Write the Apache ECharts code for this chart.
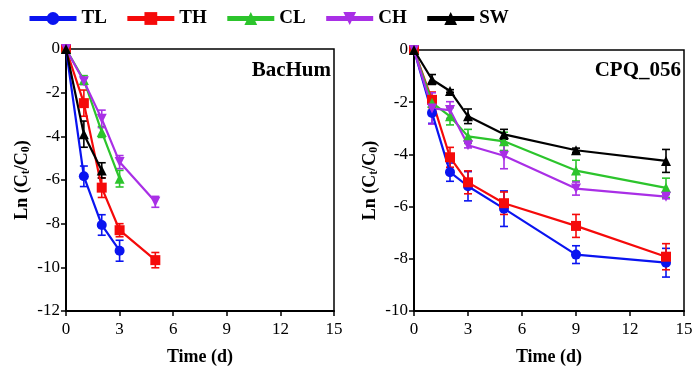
<!DOCTYPE html>
<html><head><meta charset="utf-8">
<script src="https://cdn.jsdelivr.net/npm/echarts@6/dist/echarts.min.js"></script>
<style>html,body{margin:0;padding:0;background:#fff}#c{width:700px;height:371px}</style>
</head><body><div id="c"></div>
<script>
// ---- Data ----
const seriesNames = ['TL','TH','CL','CH','SW'];
const xTicks = [0,3,6,9,12,15];
// BacHum panel
const bhDays = [0,1,2,3,5];
const bhTL = [0,-5.83,-8.06,-9.24,null];
const bhTH = [0,-2.48,-6.35,-8.30,-9.67];
const bhCL = [0,-1.42,-3.80,-5.94,null];
const bhCH = [0,-1.48,-3.20,-5.18,-7.00];
const bhSW = [0,-3.90,-5.56,null,null];
const bhTLerr = [0,0.47,0.47,0.48,null];
const bhTHerr = [0,0.60,0.45,0.30,0.35];
const bhCLerr = [0,0.20,0.25,0.38,null];
const bhCHerr = [0,0.15,0.40,0.30,0.25];
const bhSWerr = [0,0.60,0.35,null,null];
// CPQ_056 panel
const cpDays = [0,1,2,3,5,9,14];
const cpTL = [0,-2.41,-4.68,-5.22,-6.08,-7.84,-8.15];
const cpTH = [0,-1.91,-4.11,-5.07,-5.87,-6.74,-7.92];
const cpCL = [0,-2.02,-2.54,-3.31,-3.50,-4.62,-5.28];
const cpCH = [0,-2.24,-2.30,-3.65,-4.05,-5.31,-5.62];
const cpSW = [0,-1.13,-1.57,-2.54,-3.23,-3.84,-4.25];
const cpTLerr = [0,0.40,0.35,0.56,0.68,0.34,0.55];
const cpTHerr = [0,0.30,0.38,0.44,0.43,0.44,0.50];
const cpCLerr = [0,0.10,0.33,0.27,0.35,0.40,0.37];
const cpCHerr = [0,0.60,0.32,0.10,0.50,0.25,0.08];
const cpSWerr = [0,0.19,0.05,0.28,0.19,0.08,0.44];

const colors = {TL:'#0A14F0', TH:'#F50A0A', CL:'#2CC42C', CH:'#A92FE6', SW:'#000000'};
const symbols = {TL:'circle', TH:'rect', CL:'triangle', CH:'triangle', SW:'triangle'};
const symRot = {TL:0, TH:0, CL:0, CH:180, SW:0};
const symSize = {TL:10, TH:10, CL:10, CH:10, SW:10};

const serif = 'Liberation Serif, Times New Roman, serif';

const panels = [
  {days: bhDays, vals: [bhTL,bhTH,bhCL,bhCH,bhSW], errs: [bhTLerr,bhTHerr,bhCLerr,bhCHerr,bhSWerr]},
  {days: cpDays, vals: [cpTL,cpTH,cpCL,cpCH,cpSW], errs: [cpTLerr,cpTHerr,cpCLerr,cpCHerr,cpSWerr]}
];

const series = [];
panels.forEach((p, pi) => {
  seriesNames.forEach((nm, si) => {
    const pts = [], eb = [];
    p.days.forEach((d, k) => {
      const v = p.vals[si][k];
      if (v === null || v === undefined) return;
      pts.push([d, v]);
      eb.push([d, v, p.errs[si][k]]);
    });
    const col = colors[nm];
    series.push({
      type: 'custom', name: nm + '_err' + pi, xAxisIndex: pi, yAxisIndex: pi,
      data: eb, encode: {x: 0, y: 1}, z: 2, silent: true,
      renderItem: function (params, api) {
        const x = api.value(0), y = api.value(1), e = api.value(2);
        if (!e) return null;
        const t = api.coord([x, y + e]), b = api.coord([x, y - e]);
        const w = 4;
        const st = {stroke: col, lineWidth: 1.6};
        return {type: 'group', children: [
          {type: 'line', shape: {x1: t[0], y1: t[1], x2: b[0], y2: b[1]}, style: st},
          {type: 'line', shape: {x1: t[0]-w, y1: t[1], x2: t[0]+w, y2: t[1]}, style: st},
          {type: 'line', shape: {x1: b[0]-w, y1: b[1], x2: b[0]+w, y2: b[1]}, style: st}
        ]};
      }
    });
    series.push({
      type: 'line', name: nm, xAxisIndex: pi, yAxisIndex: pi, data: pts, z: 3,
      symbol: symbols[nm], symbolRotate: symRot[nm], symbolSize: symSize[nm],
      lineStyle: {color: col, width: 2.2}, itemStyle: {color: col}, animation: false
    });
  });
});

const axisCommon = {
  axisLine: {show: true, onZero: false, lineStyle: {color: '#000', width: 2}},
  axisTick: {show: true, inside: false, length: 5, lineStyle: {color: '#000', width: 1.5}},
  axisLabel: {color: '#000', fontFamily: serif, fontSize: 17},
  splitLine: {show: false}
};
function xAx(i) {
  return Object.assign({}, axisCommon, {
    type: 'value', gridIndex: i, min: xTicks[0], max: xTicks[xTicks.length-1], interval: 3,
    name: 'Time (d)', nameLocation: 'middle', nameGap: 37,
    nameTextStyle: {color: '#000', fontFamily: serif, fontSize: 18, fontWeight: 'bold'},
    axisLabel: Object.assign({}, axisCommon.axisLabel, {margin: 10})
  });
}
function yAx(i, min) {
  return Object.assign({}, axisCommon, {
    type: 'value', gridIndex: i, min: min, max: 0, interval: 2,
    name: '{b|Ln (C}{s|t}{b|/C}{s|0}{b|)}', nameLocation: 'middle', nameGap: 34, nameRotate: 90,
    nameTextStyle: {rich: {
      b: {color: '#000', fontFamily: serif, fontSize: 18, fontWeight: 'bold'},
      s: {color: '#000', fontFamily: serif, fontSize: 12, fontWeight: 'bold', verticalAlign: 'bottom', padding: [8,0,0,0]}
    }},
    axisLabel: Object.assign({}, axisCommon.axisLabel, {margin: 6})
  });
}

const option = {
  animation: false,
  backgroundColor: '#fff',
  legend: {
    top: 4, left: 22, itemGap: 18, itemWidth: 47, itemHeight: 16,
    data: seriesNames,
    lineStyle: {width: 5},
    textStyle: {color: '#000', fontFamily: serif, fontSize: 19, fontWeight: 'bold'}
  },
  grid: [
    {left: 66, top: 49, width: 268, height: 264, show: true, borderColor: '#000', borderWidth: 1.5, containLabel: false},
    {left: 414, top: 50, width: 270, height: 265, show: true, borderColor: '#000', borderWidth: 1.5, containLabel: false}
  ],
  xAxis: [xAx(0), xAx(1)],
  yAxis: [yAx(0, -12), yAx(1, -10)],
  graphic: [
    {type: 'text', x: 331, y: 71, style: {text: 'BacHum', x: 0, y: 0, textAlign: 'right', textVerticalAlign: 'middle', fill: '#000', font: 'bold 21px ' + serif}},
    {type: 'text', x: 681, y: 71, style: {text: 'CPQ_056', x: 0, y: 0, textAlign: 'right', textVerticalAlign: 'middle', fill: '#000', font: 'bold 21px ' + serif}}
  ],
  series: series
};
const chart = echarts.init(document.getElementById('c'), null, {renderer: 'canvas'});
chart.setOption(option);
</script></body></html>
